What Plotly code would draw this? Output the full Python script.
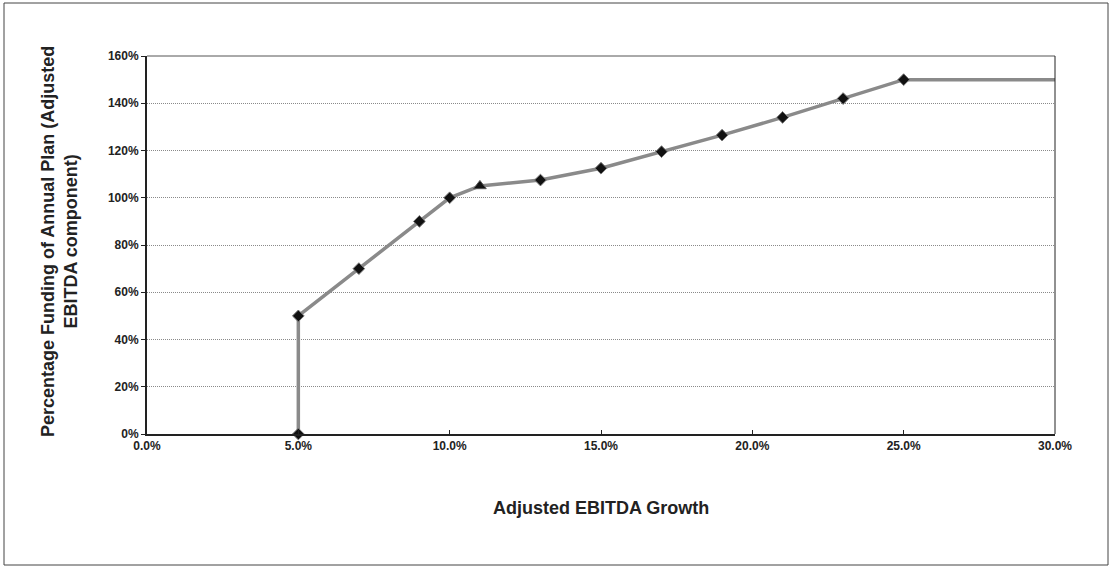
import plotly.graph_objects as go

growth = [5, 5, 7, 9, 10, 11, 13, 15, 17, 19, 21, 23, 25, 30]
funding = [0, 50, 70, 90, 100, 105, 107.5, 112.5, 119.5, 126.5, 134, 142, 150, 150]
has_marker = [True] * 13 + [False]
triangle_index = 5

x_ticks = [0, 5, 10, 15, 20, 25, 30]
x_tick_labels = ["0.0%", "5.0%", "10.0%", "15.0%", "20.0%", "25.0%", "30.0%"]
y_ticks = [0, 20, 40, 60, 80, 100, 120, 140, 160]
y_tick_labels = [f"{v}%" for v in y_ticks]

W, H = 1112, 566
L, R, T, B = 147, 57, 56, 132
pw, ph = W - L - R, H - T - B

def px_x(p):
    return (p - L) / pw

def px_y(p):
    return (H - B - p) / ph

FONT = "Liberation Sans, Arial, sans-serif"

fig = go.Figure()
fig.add_trace(go.Scatter(
    x=growth, y=funding, mode="lines",
    line=dict(color="#8a8a8a", width=3.5),
    cliponaxis=False, showlegend=False, hoverinfo="skip",
))
dx = [g for g, m, i in zip(growth, has_marker, range(len(growth))) if m and i != triangle_index]
dy = [f for f, m, i in zip(funding, has_marker, range(len(funding))) if m and i != triangle_index]
fig.add_trace(go.Scatter(
    x=dx, y=dy, mode="markers",
    marker=dict(symbol="diamond", size=9, color="#111111",
                line=dict(color="#777777", width=1)),
    cliponaxis=False, showlegend=False,
))
fig.add_trace(go.Scatter(
    x=[growth[triangle_index]], y=[funding[triangle_index]], mode="markers",
    marker=dict(symbol="triangle-up", size=11, color="#111111",
                line=dict(color="#555555", width=1)),
    cliponaxis=False, showlegend=False,
))

fig.update_layout(
    width=W, height=H,
    margin=dict(l=L, r=R, t=T, b=B),
    paper_bgcolor="white", plot_bgcolor="white",
    font=dict(family=FONT, color="#222222"),
    xaxis=dict(
        range=[0, 30], tickvals=x_ticks, ticktext=x_tick_labels,
        ticks="inside", ticklen=4, tickcolor="#222222",
        showline=True, linecolor="#222222", linewidth=2,
        mirror=False, showgrid=False, zeroline=False,
        tickfont=dict(size=12, family=FONT, weight="bold"),
    ),
    yaxis=dict(
        range=[0, 160], tickvals=y_ticks, ticktext=y_tick_labels,
        ticks="outside", ticklen=4, tickcolor="#222222",
        showline=True, linecolor="#222222", linewidth=2,
        showgrid=True, gridcolor="#8a8a8a", griddash="1px,1px", gridwidth=1,
        zeroline=False,
        tickfont=dict(size=12, family=FONT, weight="bold"),
    ),
)

# top and right thin frame of plot area
fig.add_shape(type="line", xref="paper", yref="paper", x0=0, x1=1, y0=1, y1=1,
              line=dict(color="#555555", width=1))
fig.add_shape(type="line", xref="paper", yref="paper", x0=1, x1=1, y0=0, y1=1,
              line=dict(color="#222222", width=1))
# outer chart border
fig.add_shape(type="rect", xref="paper", yref="paper",
              x0=px_x(4), x1=px_x(1108), y0=px_y(565), y1=px_y(3),
              line=dict(color="#444444", width=1))

fig.add_annotation(
    text="<b>Adjusted EBITDA Growth</b>", xref="paper", yref="paper",
    x=px_x(601), y=px_y(508), showarrow=False, xanchor="center", yanchor="middle",
    font=dict(size=18, family=FONT, color="#222222"),
)
fig.add_annotation(
    text="<b>Percentage Funding of Annual Plan (Adjusted<br>EBITDA component)</b>",
    xref="paper", yref="paper", x=px_x(59), y=px_y(242), textangle=-90,
    showarrow=False, xanchor="center", yanchor="middle",
    font=dict(size=18, family=FONT, color="#222222"),
)

fig.write_html("out.html", config={"displayModeBar": False},
               post_script="document.body.style.margin='0';document.body.style.overflow='hidden';")
